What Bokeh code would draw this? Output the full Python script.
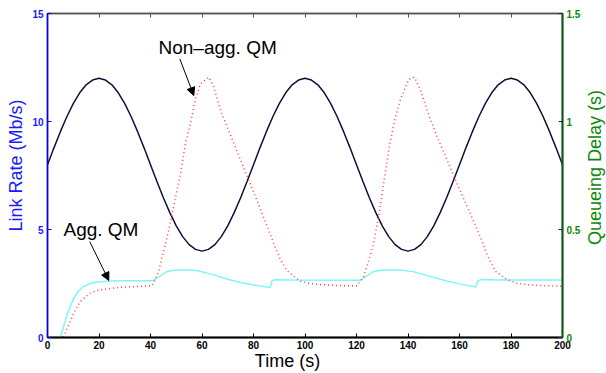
import math
from bokeh.plotting import figure
from bokeh.models import Range1d, LinearAxis, FixedTicker, Label, Arrow, NormalHead
from bokeh.embed import file_html
from bokeh.resources import INLINE

# ---------------- data ----------------
t_rate = [0, 2.5, 5, 7.5, 10, 12.5, 15, 17.5, 20, 22.5, 25, 27.5, 30, 32.5, 35, 37.5,
          40, 42.5, 45, 47.5, 50, 52.5, 55, 57.5, 60, 62.5, 65, 67.5, 70, 72.5, 75, 77.5,
          80, 82.5, 85, 87.5, 90, 92.5, 95, 97.5, 100, 102.5, 105, 107.5, 110, 112.5, 115, 117.5,
          120, 122.5, 125, 127.5, 130, 132.5, 135, 137.5, 140, 142.5, 145, 147.5, 150, 152.5, 155, 157.5,
          160, 162.5, 165, 167.5, 170, 172.5, 175, 177.5, 180, 182.5, 185, 187.5, 190, 192.5, 195, 197.5,
          200]
link_rate = [8, 8.78, 9.53, 10.22, 10.83, 11.33, 11.70, 11.92, 12, 11.92, 11.70, 11.33, 10.83, 10.22, 9.53, 8.78,
             8, 7.22, 6.47, 5.78, 5.17, 4.67, 4.30, 4.08, 4, 4.08, 4.30, 4.67, 5.17, 5.78, 6.47, 7.22,
             8, 8.78, 9.53, 10.22, 10.83, 11.33, 11.70, 11.92, 12, 11.92, 11.70, 11.33, 10.83, 10.22, 9.53, 8.78,
             8, 7.22, 6.47, 5.78, 5.17, 4.67, 4.30, 4.08, 4, 4.08, 4.30, 4.67, 5.17, 5.78, 6.47, 7.22,
             8, 8.78, 9.53, 10.22, 10.83, 11.33, 11.70, 11.92, 12, 11.92, 11.70, 11.33, 10.83, 10.22, 9.53, 8.78,
             8]

t_nonagg = [0, 6, 8.3, 10.2, 12.8, 16.7, 20, 23.2, 29.6, 35, 40.7, 43.2, 44.5, 46.1, 48, 51.7, 53.6,
            55.5, 57.5, 59.4, 62.7, 64.6, 67.2, 69.8, 73.5, 77.6, 81.5, 85.3, 88, 90.5, 93, 95.7, 98.3,
            102, 106, 114, 120.3, 122.8, 125.4, 126.7, 129, 131, 133, 135.1, 137, 140.3, 142.5, 144.9,
            147.5, 151.3, 155.2, 159, 163.6, 168, 171, 174, 178.5, 182, 186.3, 193, 200]
delay_nonagg = [0, 0, 0.06, 0.114, 0.168, 0.206, 0.220, 0.225, 0.234, 0.236, 0.240, 0.306, 0.375, 0.444, 0.55, 0.76, 0.90,
                0.99, 1.106, 1.175, 1.205, 1.16, 1.05, 0.975, 0.865, 0.744, 0.63, 0.514, 0.43, 0.36, 0.31, 0.283, 0.26,
                0.25, 0.245, 0.24, 0.24, 0.283, 0.383, 0.437, 0.59, 0.75, 0.90, 1.02, 1.10, 1.195, 1.205, 1.144,
                1.05, 0.929, 0.821, 0.714, 0.59, 0.467, 0.375, 0.306, 0.268, 0.252, 0.245, 0.240, 0.237]

t_agg = [0, 5, 6, 7.6, 10.2, 12, 14.1, 16.5, 19.3, 24.5, 30, 41, 43, 46.5, 50, 54, 58, 64.6, 70, 75, 80,
         86.5, 87.2, 88, 95, 121.6, 124, 126.7, 130, 137, 142, 148.7, 155, 161, 166.3, 167, 168.2, 175, 200]
delay_agg = [0, 0, 0.04, 0.106, 0.183, 0.215, 0.237, 0.25, 0.257, 0.262, 0.263, 0.263, 0.28, 0.306, 0.312, 0.313, 0.31,
             0.29, 0.27, 0.255, 0.243, 0.232, 0.262, 0.267, 0.266, 0.265, 0.285, 0.306, 0.312, 0.313, 0.305, 0.283,
             0.262, 0.246, 0.234, 0.26, 0.268, 0.266, 0.266]

x_ticks = [0, 20, 40, 60, 80, 100, 120, 140, 160, 180, 200]
rate_ticks = [0, 5, 10, 15]
delay_ticks = [0, 0.5, 1, 1.5]
delay_tick_labels = {0: "0", 0.5: "0.5", 1: "1", 1.5: "1.5"}

FONT = "Liberation Sans"
BLUE = "#1a1aff"
GREEN = "#0a8a0a"
NB = "\u00a0"

p = figure(width=606, height=373, x_range=Range1d(0, 200), y_range=Range1d(0, 15),
           output_backend="svg", toolbar_location=None,
           min_border_left=47, min_border_right=44, min_border_top=13, min_border_bottom=35)
p.grid.visible = False
p.outline_line_color = "#555555"
p.outline_line_width = 1.5
p.extra_y_ranges = {"delay": Range1d(0, 1.5)}

# bottom axis
xa = p.xaxis[0]
xa.ticker = FixedTicker(ticks=x_ticks)
xa.axis_line_color = "black"
xa.axis_line_width = 2
xa.major_tick_in = 4
xa.major_tick_out = 0
xa.minor_tick_line_color = None
xa.major_label_standoff = 3
xa.major_label_text_font = FONT
xa.major_label_text_font_style = "bold"
xa.major_label_text_font_size = "10px"
xa.major_label_text_color = "black"
xa.axis_label = "Time (s)" + NB * 7
xa.axis_label_text_font = FONT
xa.axis_label_text_font_style = "normal"
xa.axis_label_text_font_size = "18px"
xa.axis_label_text_color = "black"
xa.axis_label_standoff = -1

# left axis
ya = p.yaxis[0]
ya.ticker = FixedTicker(ticks=rate_ticks)
ya.axis_line_color = "#0000ff"
ya.axis_line_width = 1.5
ya.major_tick_line_color = "#0000ff"
ya.major_tick_in = 4
ya.major_tick_out = 0
ya.minor_tick_line_color = None
ya.major_label_standoff = 4
ya.major_label_text_font = FONT
ya.major_label_text_font_style = "bold"
ya.major_label_text_font_size = "10px"
ya.major_label_text_color = BLUE
ya.axis_label = NB * 4 + "Link Rate (Mb/s)"
ya.axis_label_text_font = FONT
ya.axis_label_text_font_style = "normal"
ya.axis_label_text_font_size = "18px"
ya.axis_label_text_color = BLUE
ya.axis_label_standoff = 3

# right axis
ra = LinearAxis(y_range_name="delay", ticker=FixedTicker(ticks=delay_ticks),
                major_label_overrides=delay_tick_labels)
ra.axis_line_color = "#0b5a1a"
ra.axis_line_width = 2
ra.major_tick_line_color = "#1a1a8a"
ra.major_tick_in = 4
ra.major_tick_out = 0
ra.minor_tick_line_color = None
ra.major_label_standoff = 4
ra.major_label_text_font = FONT
ra.major_label_text_font_style = "bold"
ra.major_label_text_font_size = "10px"
ra.major_label_text_color = GREEN
p.add_layout(ra, "right")

# right title, reading bottom-to-top, placed in its own side panel
p.add_layout(Label(x=11, y=170, x_units="screen", y_units="screen", text="Queueing Delay (s)",
                   text_font=FONT, text_font_size="18px", text_align="center",
                   text_baseline="middle", text_color=GREEN, angle=math.pi / 2), "right")

# top axis (ticks only)
ta = LinearAxis(ticker=FixedTicker(ticks=x_ticks),
                major_label_overrides={t: "" for t in x_ticks})
ta.axis_line_color = "#555555"
ta.axis_line_width = 1.5
ta.major_tick_line_color = "#555555"
ta.major_tick_in = 4
ta.major_tick_out = 0
ta.minor_tick_line_color = None
ta.major_label_standoff = 0
ta.major_label_text_font_size = "1px"
p.add_layout(ta, "above")

# lines
p.line(t_rate, link_rate, line_color="#10103a", line_width=1.5)
p.line(t_agg, delay_agg, y_range_name="delay", line_color="#7ff5f5", line_width=1.5)
p.line(t_nonagg, delay_nonagg, y_range_name="delay", line_color="#ff4040",
       line_width=1.5, line_dash="1 3")

# annotations
p.add_layout(Label(x=43.1, y=13.43, text="Non\u2013agg. QM", text_font=FONT,
                   text_font_size="19px", text_align="left", text_baseline="middle",
                   text_color="black"))
p.add_layout(Label(x=6.2, y=4.98, text="Agg. QM", text_font=FONT,
                   text_font_size="19px", text_align="left", text_baseline="middle",
                   text_color="black"))
p.add_layout(Arrow(x_start=51.4, y_start=12.9, x_end=56.8, y_end=11.2, line_width=1,
                   line_color="black",
                   end=NormalHead(size=8, fill_color="black", line_color="black")))
p.add_layout(Arrow(x_start=16.4, y_start=4.44, x_end=23.8, y_end=2.64, line_width=1,
                   line_color="black",
                   end=NormalHead(size=8, fill_color="black", line_color="black")))

open("out.html", "w").write(file_html(p, INLINE))
